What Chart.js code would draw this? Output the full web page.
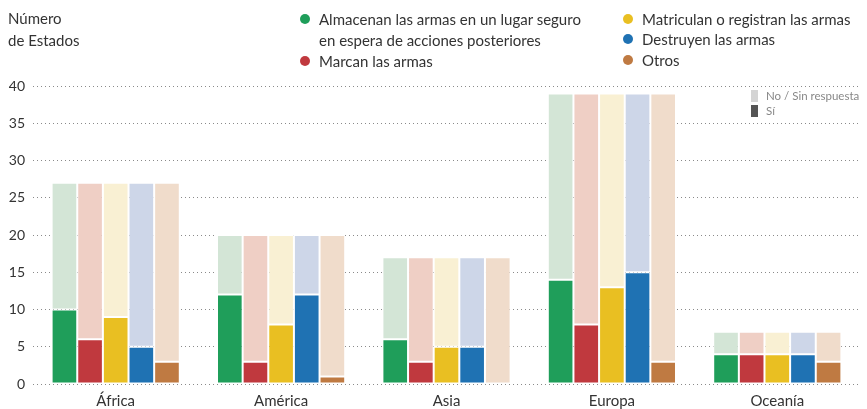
<!DOCTYPE html>
<html><head><meta charset="utf-8">
<script src="https://cdn.jsdelivr.net/npm/chart.js@4"></script>
<style>
html,body{margin:0;padding:0;background:#fff;}
#wrap{position:relative;width:867px;height:409px;font-family:Lato,"Noto Sans",sans-serif;color:#333;}
canvas{position:absolute;left:0;top:0;}
.t{position:absolute;font-size:15px;white-space:nowrap;line-height:20px;}
.dot{position:absolute;width:10px;height:10px;border-radius:50%;}
.sq{position:absolute;width:7px;height:12px;}
.s{position:absolute;font-size:11.5px;color:#888;white-space:nowrap;line-height:14px;}
</style></head><body>
<div id="wrap">
<canvas id="c" width="867" height="409"></canvas>
<div class="t" style="left:8px;top:8px;">Número</div>
<div class="t" style="left:8px;top:30px;">de Estados</div>
<div id="leg"></div>
<div class="sq" style="left:751px;top:90px;background:#d4d4d4"></div>
<div class="sq" style="left:751px;top:105px;background:#555"></div>
<div class="s" style="left:766px;top:89px;">No / Sin respuesta</div>
<div class="s" style="left:766px;top:104px;">Sí</div>
</div>
<script>
const categories = ["África","América","Asia","Europa","Oceanía"];
const totals = [27,20,17,39,7];
const seriesNames = ["Almacenan las armas en un lugar seguro en espera de acciones posteriores","Marcan las armas","Matriculan o registran las armas","Destruyen las armas","Otros"];
const almacenan = [10,12,6,14,4];
const marcan = [6,3,3,8,4];
const matriculan = [9,8,5,13,4];
const destruyen = [5,12,5,15,4];
const otros = [3,1,0,3,3];
const yTicks = [0,5,10,15,20,25,30,35,40];

const strong = ["#1f9e5a","#c0393e","#e9bf22","#1f72b3","#bf7a42"];
const light = ["#d3e5d6","#efcfc5","#f9f0d3","#cdd6e8","#f0dccb"];
const yes = [almacenan,marcan,matriculan,destruyen,otros];

// HTML legend
const legItems = [
  {i:0,x:300,y:9,lines:["Almacenan las armas en un lugar seguro","en espera de acciones posteriores"]},
  {i:1,x:300,y:51,lines:["Marcan las armas"]},
  {i:2,x:623,y:9,lines:["Matriculan o registran las armas"]},
  {i:3,x:623,y:29,lines:["Destruyen las armas"]},
  {i:4,x:623,y:50,lines:["Otros"]}
];
const leg = document.getElementById('leg');
legItems.forEach(it=>{
  const d=document.createElement('div');d.className='dot';
  d.style.left=it.x+'px';d.style.top=(it.y+5)+'px';d.style.background=strong[it.i];
  leg.appendChild(d);
  it.lines.forEach((ln,k)=>{
    const t=document.createElement('div');t.className='t';
    t.style.left=(it.x+19)+'px';t.style.top=(it.y+k*21)+'px';t.textContent=ln;
    leg.appendChild(t);
  });
});

const datasets=[];
yes.forEach((arr,i)=>{
  datasets.push({label:seriesNames[i]+" - Sí",data:arr,backgroundColor:strong[i],stack:"s"+i,
    borderColor:"#fff",borderWidth:1,borderSkipped:false});
  datasets.push({label:seriesNames[i]+" - No",data:arr.map((v,j)=>totals[j]-v),backgroundColor:light[i],stack:"s"+i,
    borderColor:"#fff",borderWidth:1,borderSkipped:false});
});

new Chart(document.getElementById('c'),{
  type:'bar',
  data:{labels:categories,datasets},
  options:{
    responsive:false,animation:false,
    layout:{padding:{top:86,right:7,left:0,bottom:0}},
    datasets:{bar:{categoryPercentage:0.775,barPercentage:1}},
    plugins:{legend:{display:false},tooltip:{enabled:false}},
    scales:{
      x:{stacked:true,grid:{display:false,drawTicks:false},border:{display:false},
        ticks:{color:"#333",font:{family:"Lato",size:15},padding:8},
        afterFit:(s)=>{s.height=25;}},
      y:{stacked:true,min:0,max:40,
        afterBuildTicks:(s)=>{s.ticks=yTicks.map(v=>({value:v}));},
        grid:{color:"#8a8a8a",lineWidth:1,drawTicks:false},
        border:{display:false,dash:[1,3]},
        ticks:{color:"#333",font:{family:"Lato",size:14},padding:8},
        afterFit:(s)=>{s.width=33;}}
    }
  }
});
</script>
</body></html>
